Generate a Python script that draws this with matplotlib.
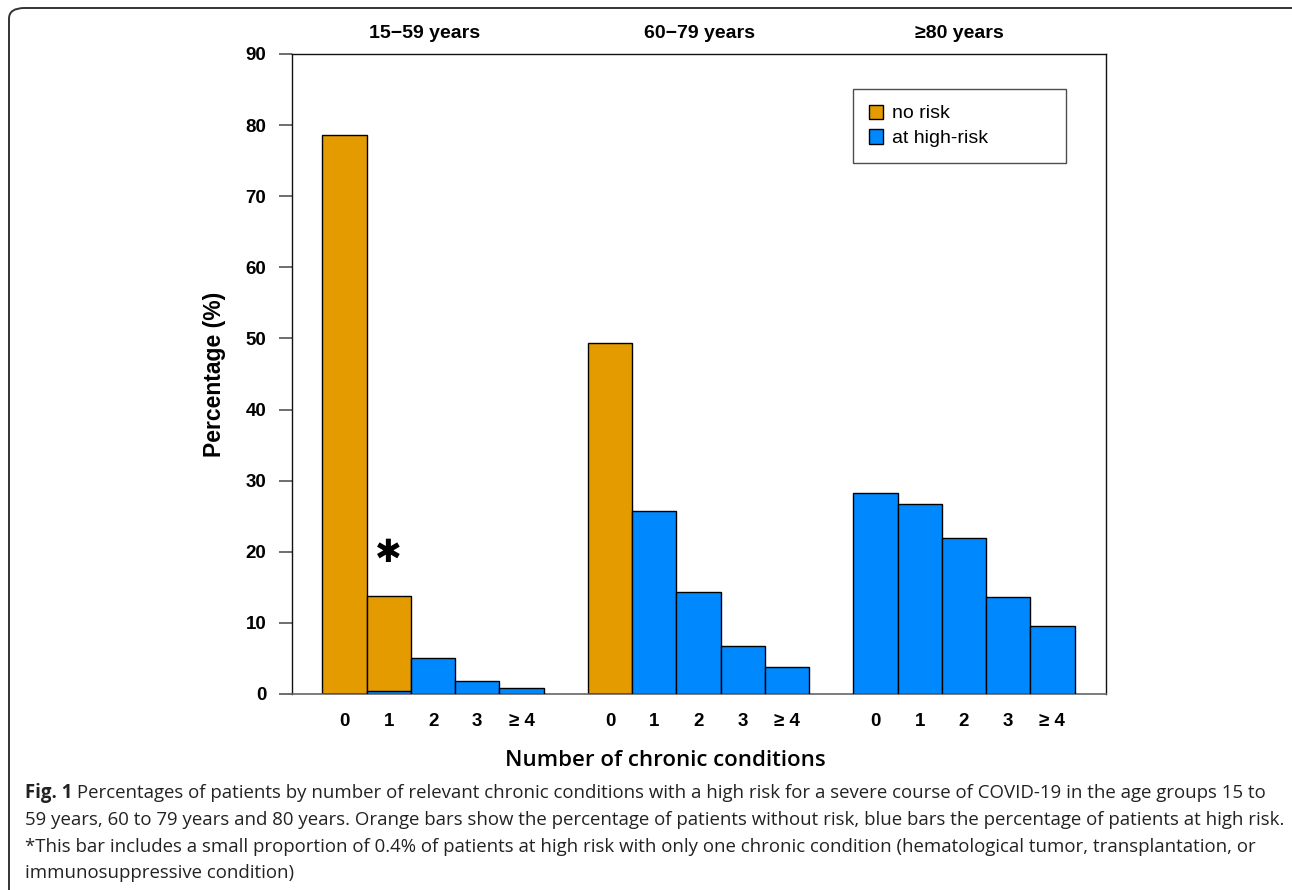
import matplotlib
matplotlib.use("Agg")
import matplotlib.pyplot as plt
from matplotlib.patches import FancyBboxPatch, Patch
import numpy as np

# ---- data ----
groups = ["15\u221259 years", "60\u221279 years", "\u226580 years"]
conditions = ["0", "1", "2", "3", "\u2265 4"]
no_risk = [
    [78.6, 13.8, 0, 0, 0],
    [49.3, 0, 0, 0, 0],
    [0, 0, 0, 0, 0],
]
high_risk = [
    [0, 0.4, 5.0, 1.8, 0.8],
    [0, 25.7, 14.3, 6.8, 3.8],
    [28.3, 26.7, 21.9, 13.6, 9.6],
]
star_group, star_cond = 0, 1
y_ticks = [0, 10, 20, 30, 40, 50, 60, 70, 80, 90]
caption_bold = "Fig. 1"
caption_lines = [
    " Percentages of patients by number of relevant chronic conditions with a high risk for a severe course of COVID-19 in the age groups 15 to",
    "59 years, 60 to 79 years and 80 years. Orange bars show the percentage of patients without risk, blue bars the percentage of patients at high risk.",
    "*This bar includes a small proportion of 0.4% of patients at high risk with only one chronic condition (hematological tumor, transplantation, or",
    "immunosuppressive condition)",
]

ORANGE = "#E39B00"
BLUE = "#0088FF"

W, H = 1292, 890
fig = plt.figure(figsize=(W / 100, H / 100), dpi=100)

# rounded border
border = FancyBboxPatch((9 / W, -20 / H), (W + 30) / W, (H - 8 + 20) / H,
                        boxstyle="round,pad=0,rounding_size=0.012",
                        transform=fig.transFigure, fill=False,
                        edgecolor="#333333", linewidth=1.4, clip_on=False)
fig.patches.append(border)

AX_L, AX_R, AX_T, AX_B = 291.5, 1105.5, 54, 694
ax = fig.add_axes([AX_L / W, (H - AX_B) / H, (AX_R - AX_L) / W, (AX_B - AX_T) / H])

ncond = len(conditions)
step = ncond + 1
title_dx = [-6, 1, -3]
for gi in range(len(groups)):
    xs = np.arange(ncond) + gi * step
    ax.bar(xs, no_risk[gi], width=1.0, color=ORANGE, edgecolor="black", linewidth=1.0, zorder=2)
    ax.bar(xs, high_risk[gi], width=1.0, color=BLUE, edgecolor="black", linewidth=1.0, zorder=3)
    ax.annotate(groups[gi], xy=(xs.mean(), 1.0), xycoords=("data", "axes fraction"),
                xytext=(title_dx[gi], 15), textcoords="offset points", ha="center", va="center",
                fontsize=14, fontweight="bold", family="Liberation Sans")

# asterisk
sx = star_cond + star_group * step
sy = max(no_risk[star_group][star_cond], high_risk[star_group][star_cond]) + 6.0
ax.text(sx, sy, "\u2731", ha="center", va="center", fontsize=23, family="DejaVu Sans", color="black")

xt = [c + gi * step for gi in range(len(groups)) for c in range(ncond)]
ax.set_xticks(xt)
ax.set_xticklabels(conditions * len(groups), fontsize=13.5, fontweight="bold", family="Liberation Sans")
ax.tick_params(axis="x", length=0, pad=14)
ax.set_yticks(y_ticks)
ax.set_yticklabels([str(v) for v in y_ticks], fontsize=13.5, fontweight="bold", family="Liberation Sans")
ax.tick_params(axis="y", direction="out", length=9.5, width=1.2, pad=8.5, color="#555555")
ax.set_xlim(-1.2, 2 * step + ncond - 0.5 + 0.7)
ax.set_ylim(0, 90)

for s in ["left", "top", "right"]:
    ax.spines[s].set_color("#111111")
    ax.spines[s].set_linewidth(1.0)
ax.spines["bottom"].set_color("#666666")
ax.spines["bottom"].set_linewidth(1.2)

ax.set_ylabel("Percentage (%)", fontsize=16.5, fontweight="bold", family="Liberation Sans", labelpad=14)

axw, axh = AX_R - AX_L, AX_B - AX_T
lx0 = (853 - AX_L) / axw
lx1 = (1066 - AX_L) / axw
ly1 = 1 - (89 - AX_T) / axh
ly0 = 1 - (160 - AX_T) / axh
leg = ax.legend(handles=[Patch(facecolor=ORANGE, edgecolor="black", linewidth=1.0, label="no risk"),
                         Patch(facecolor=BLUE, edgecolor="black", linewidth=1.0, label="at high-risk")],
                loc="upper left", bbox_to_anchor=(lx0, ly0, lx1 - lx0, ly1 - ly0), mode="expand",
                prop={"family": "Liberation Sans", "size": 14}, frameon=True, fancybox=False,
                edgecolor="#222222", borderpad=0.8, handlelength=0.75, handleheight=0.75,
                handletextpad=0.45, labelspacing=0.36, borderaxespad=0)
leg.get_frame().set_linewidth(1.0)
fig.canvas.draw()

# x label
fig.text(665 / W, 1 - 760 / H, "Number of chronic conditions", ha="center", va="center",
         fontsize=16, fontweight="semibold", family="Open Sans", color="black")

# caption with width fit
renderer = fig.canvas.get_renderer()
cap_size = 13.0
tb = fig.text(25 / W, 1 - 793 / H, caption_bold, ha="left", va="center", fontsize=cap_size,
              fontweight="bold", family="Open Sans", color="#222222")
probe = fig.text(0, 0, caption_lines[1], fontsize=cap_size, family="Open Sans")
w2 = probe.get_window_extent(renderer).width
probe.remove()
cap_size *= (1276 - 25) / w2
tb.set_fontsize(cap_size)
wb = tb.get_window_extent(renderer).width
ys = [793, 820, 847, 873]
for i, line in enumerate(caption_lines):
    x0 = 25 + (wb if i == 0 else 0)
    fig.text(x0 / W, 1 - ys[i] / H, line, ha="left", va="center", fontsize=cap_size,
             family="Open Sans", color="#222222")

fig.savefig("out.png", dpi=100)
